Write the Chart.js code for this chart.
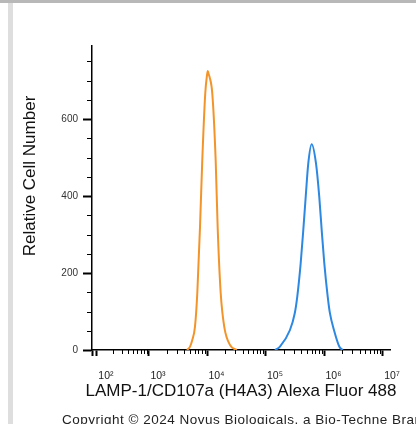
<!DOCTYPE html>
<html lang="en">

<head>
    <meta charset="UTF-8">
    <script src="https://cdn.jsdelivr.net/npm/chart.js"></script>
    <title>LAMP-1/CD107a flow histogram</title>
    <style>
        body { margin: 0; background: #fff; }
        .wrap { position: relative; width: 416px; height: 424px; overflow: hidden; background: #fff; }
        .topband { position: absolute; left: 0; top: 0; width: 416px; height: 3px; background: #b8b8b8; }
        .leftbar { position: absolute; left: 8px; top: 3px; width: 5px; height: 421px; background: #dedede; }
        #myChart { position: absolute; left: 0; top: 0; }
        .copy { position: absolute; left: 62px; top: 412px; font: 13.5px "Liberation Sans", Arial, sans-serif;
                color: #222; white-space: nowrap; letter-spacing: 0.5px; }
    </style>
</head>

<body>
    <div class="wrap">
        <div class="topband"></div>
        <div class="leftbar"></div>
        <canvas id="myChart" width="416" height="424"></canvas>
        <div class="copy">Copyright © 2024 Novus Biologicals, a Bio-Techne Brand</div>
    </div>
    <script>
        // x values are log10(intensity)
        const orangeX = [3.65, 3.70, 3.74, 3.786, 3.826, 3.872, 3.911, 3.962, 3.99, 4.005, 4.02, 4.035, 4.082, 4.14, 4.174, 4.226, 4.287, 4.385, 4.5];
        const orangeY = [0, 8, 26, 60, 148, 319, 493, 667, 712, 725, 717, 710, 667, 493, 319, 148, 60, 13, 0];
        const blueX = [5.154, 5.239, 5.41, 5.491, 5.535, 5.593, 5.638, 5.679, 5.723, 5.781, 5.855, 5.911, 5.952, 5.997, 6.055, 6.094, 6.162, 6.253, 6.311];
        const blueY = [0, 9, 52, 95, 139, 225, 312, 398, 485, 535, 485, 398, 312, 225, 139, 95, 52, 9, 0];

        const yTicks = [0, 200, 400, 600];
        const yMinorStep = 50;
        const xDecadeLabels = ['10²', '10³', '10⁴', '10⁵', '10⁶', '10⁷'];
        // 10^2 sits a bit right on the biexponential axis
        const xTickPos = [2.11, 3, 4, 5, 6, 7];

        const xMin = 2.026, xMax = 7.12;
        const yMin = 0, yMax = 790;

        const xTitle = 'LAMP-1/CD107a (H4A3) Alexa Fluor 488';
        const yTitle = 'Relative Cell Number';

        function toPoints(xs, ys) {
            let pts = [];
            for (let i = 0; i < xs.length; i++) pts.push({ x: xs[i], y: ys[i] });
            return pts;
        }

        // minor ticks + axis titles (chart.js squeezes the x title to the plot width)
        const extras = {
            id: 'extras',
            afterDraw(chart) {
                const ctx = chart.ctx;
                const x = chart.scales.x, y = chart.scales.y;
                const area = chart.chartArea;
                ctx.save();
                ctx.strokeStyle = '#000';
                ctx.lineWidth = 1;
                ctx.beginPath();
                for (let d = 0; d < xTickPos.length - 1; d++) {
                    const a = xTickPos[d], b = xTickPos[d + 1];
                    for (let m = 2; m <= 9; m++) {
                        const v = a + (b - a) * Math.log10(m);
                        const px = Math.round(x.getPixelForValue(v)) + 0.5;
                        ctx.moveTo(px, area.bottom);
                        ctx.lineTo(px, area.bottom + 4);
                    }
                }
                for (let v = yMinorStep; v < yMax; v += yMinorStep) {
                    if (yTicks.indexOf(v) >= 0) continue;
                    const py = Math.round(y.getPixelForValue(v)) + 0.5;
                    ctx.moveTo(area.left - 5, py);
                    ctx.lineTo(area.left, py);
                }
                ctx.stroke();

                ctx.fillStyle = '#111';
                ctx.font = '17px "Liberation Sans", Arial, sans-serif';
                ctx.textAlign = 'center';
                ctx.textBaseline = 'middle';
                ctx.fillText(xTitle, (area.left + area.right) / 2, 391);
                ctx.translate(30, 176);
                ctx.rotate(-Math.PI / 2);
                ctx.fillText(yTitle, 0, 0);
                ctx.restore();
            }
        };

        const ctx = document.getElementById('myChart');
        const config = {
            type: 'line',
            data: {
                datasets: [{
                    label: 'isotype',
                    data: toPoints(orangeX, orangeY),
                    borderColor: 'rgb(243,148,42)',
                    borderWidth: 2,
                    pointRadius: 0,
                    tension: 0.4,
                    cubicInterpolationMode: 'monotone',
                    fill: false
                }, {
                    label: 'LAMP-1',
                    data: toPoints(blueX, blueY),
                    borderColor: 'rgb(45,136,226)',
                    borderWidth: 2,
                    pointRadius: 0,
                    tension: 0.4,
                    cubicInterpolationMode: 'monotone',
                    fill: false
                }]
            },
            options: {
                responsive: false,
                animation: false,
                layout: { padding: { top: 46, right: 26, left: 0, bottom: 0 } },
                plugins: { legend: { display: false }, tooltip: { enabled: false } },
                scales: {
                    x: {
                        type: 'linear',
                        min: xMin,
                        max: xMax,
                        afterBuildTicks: function (scale) {
                            let t = [{ value: xMin }];
                            xTickPos.forEach(function (v) { t.push({ value: v }); });
                            scale.ticks = t;
                        },
                        afterFit: function (scale) { scale.height = 74; },
                        ticks: {
                            autoSkip: false,
                            maxRotation: 0,
                            padding: 14,
                            labelOffset: 9,
                            color: '#222',
                            font: { size: 10.5, family: '"Liberation Sans", Arial, sans-serif' },
                            callback: function (value) {
                                const i = xTickPos.indexOf(value);
                                return i >= 0 ? xDecadeLabels[i] : '';
                            }
                        },
                        grid: { drawOnChartArea: false, tickLength: 6, tickWidth: 2, tickColor: '#000' },
                        border: { color: '#000', width: 1.5 },
                        title: { display: false }
                    },
                    y: {
                        min: yMin,
                        max: yMax,
                        afterBuildTicks: function (scale) {
                            scale.ticks = yTicks.map(function (v) { return { value: v }; });
                        },
                        afterFit: function (scale) { scale.width = 92; },
                        ticks: {
                            padding: 5,
                            color: '#333',
                            font: { size: 10, family: '"Liberation Sans", Arial, sans-serif' }
                        },
                        grid: { drawOnChartArea: false, tickLength: 9, tickWidth: 2, tickColor: '#000' },
                        border: { color: '#000', width: 1.5 }
                    }
                }
            },
            plugins: [extras]
        };
        const myChart = new Chart(ctx, config);
    </script>
</body>

</html>
